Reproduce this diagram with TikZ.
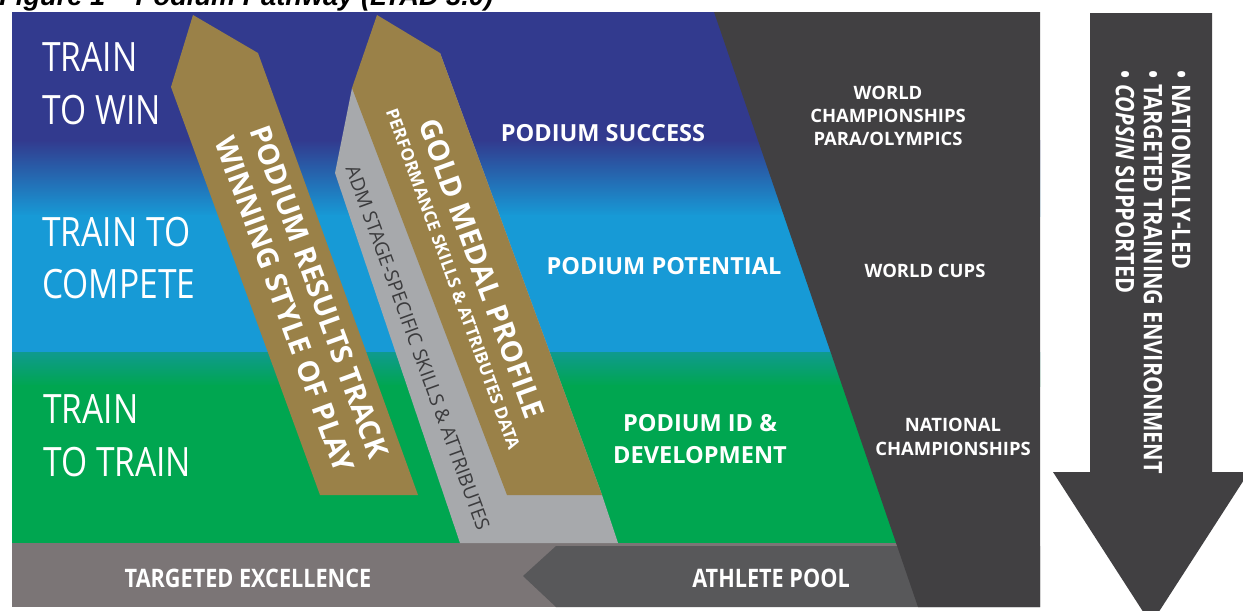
\documentclass[tikz,border=0pt]{standalone}
\usepackage{fontspec}
\setmainfont{Open Sans}
\newfontfamily\condfont[FakeStretch=0.85]{Open Sans}
\newfontfamily\trainfont[FakeStretch=0.83]{Open Sans}
\newfontfamily\titlefont{Liberation Sans}

\definecolor{darkblue}{HTML}{323A8E}
\definecolor{lightblue}{HTML}{179AD6}
\definecolor{tealband}{HTML}{0F9A8E}
\definecolor{podgreen}{HTML}{00A650}
\definecolor{goldarrow}{HTML}{9A8148}
\definecolor{stripgrey}{HTML}{A7A9AC}
\definecolor{darkgrey}{HTML}{414042}
\definecolor{barlight}{HTML}{7B7576}
\definecolor{bardark}{HTML}{58585A}
\definecolor{admtext}{HTML}{3B3B3D}

\begin{document}
\begin{tikzpicture}[x=0.02cm,y=-0.02cm,
    stage/.style={text=white,font=\trainfont\fontsize{23}{30}\selectfont,align=left,anchor=west,inner sep=0pt},
    lbl/.style={text=white,font=\bfseries\fontsize{13.4}{18}\selectfont,align=center,inner sep=0pt},
    evt/.style={text=white,font=\bfseries\fontsize{10.5}{13.3}\selectfont,align=center,inner sep=0pt},
    goldtxt/.style={text=white,font=\bfseries\fontsize{16.5}{21}\selectfont,align=center,rotate=-70,inner sep=0pt},
    bartxt/.style={text=white,font=\condfont\bfseries\fontsize{14.5}{17}\selectfont,inner sep=0pt}]

    \useasboundingbox (0,0) rectangle (1243,610);
    \fill[white] (0,0) rectangle (1243,610);

    % title, cut off at the top
    \node[anchor=base west,inner sep=0pt,font=\titlefont\bfseries\itshape\fontsize{15.5}{18}\selectfont] (title) at (-1,5) {Figure 1 – Podium Pathway (LTAD 3.0)};

    % colour bands
    \fill[darkblue] (12,12) rectangle (1040,141);
    \shade[top color=darkblue,bottom color=lightblue] (12,140) rectangle (1040,216);
    \fill[lightblue] (12,215) rectangle (1040,353);
    \shade[top color=tealband,bottom color=podgreen] (12,352) rectangle (1040,386);
    \fill[podgreen] (12,385) rectangle (1040,543);

    % bottom bar
    \fill[barlight] (12,543) rectangle (1040,607);
    \fill[bardark] (523,576) -- (556,546) -- (1040,546) -- (1040,607) -- (556,607) -- cycle;

    % right block
    \fill[darkgrey] (714,12) -- (1040,12) -- (1040,607) -- (918,607) -- cycle;

    % grey strip behind the second arrow
    \fill[stripgrey] (352,88) -- (335,173) -- (460,543) -- (618,543) -- (602,495) -- (440,53) -- cycle;

    % gold arrows
    \fill[goldarrow] (193,15) -- (258,53) -- (418,495) -- (320,495) -- (171,87) -- cycle;
    \fill[goldarrow] (377,15) -- (440,53) -- (602,495) -- (507,495) -- (352,88) -- cycle;

    % down arrow at the right
    \fill[darkgrey] (1090,13) -- (1212,13) -- (1212,472) -- (1249,472) -- (1151,624) -- (1053,472) -- (1090,472) -- cycle;

    % stages
    \node[stage] (win) at (42,84) {TRAIN\\TO WIN};
    \node[stage] (compete) at (42,258) {TRAIN TO\\COMPETE};
    \node[stage] (train) at (43,436) {TRAIN\\TO TRAIN};

    % podium labels
    \node[lbl] (success) at (603,133) {PODIUM SUCCESS};
    \node[lbl] (potential) at (664,266) {PODIUM POTENTIAL};
    \node[lbl] (devel) at (700,439) {PODIUM ID \&\\DEVELOPMENT};

    % events
    \node[evt] (worlds) at (888,116) {WORLD\\CHAMPIONSHIPS\\PARA/OLYMPICS};
    \node[evt] (cups) at (925,271) {WORLD CUPS};
    \node[evt] (nationals) at (953,437) {NATIONAL\\CHAMPIONSHIPS};

    % text on the arrows
    \node[goldtxt] (results) at (302,298) {PODIUM RESULTS TRACK\\WINNING STYLE OF PLAY};
    \node[goldtxt] (gold) at (482,269) {GOLD MEDAL PROFILE};
    \node[goldtxt,font=\bfseries\fontsize{9.8}{12}\selectfont] (perf) at (453,279) {PERFORMANCE SKILLS \& ATTRIBUTES DATA};
    \node[rotate=-70,inner sep=0pt,text=admtext,font=\fontsize{11}{12}\selectfont] (adm) at (418,348) {ADM STAGE-SPECIFIC SKILLS \& ATTRIBUTES};

    % bottom bar text
    \node[bartxt] (excel) at (248,578) {TARGETED EXCELLENCE};
    \node[bartxt] (pool) at (771,578) {ATHLETE POOL};

    % down arrow text
    \node[bartxt,font=\condfont\bfseries\fontsize{14.5}{16}\selectfont,align=left,rotate=-90,anchor=west] (env) at (1153,70)
        {• NATIONALLY-LED\\• TARGETED TRAINING ENVIRONMENT\\• \textit{COPSIN} SUPPORTED};
\end{tikzpicture}
\end{document}
